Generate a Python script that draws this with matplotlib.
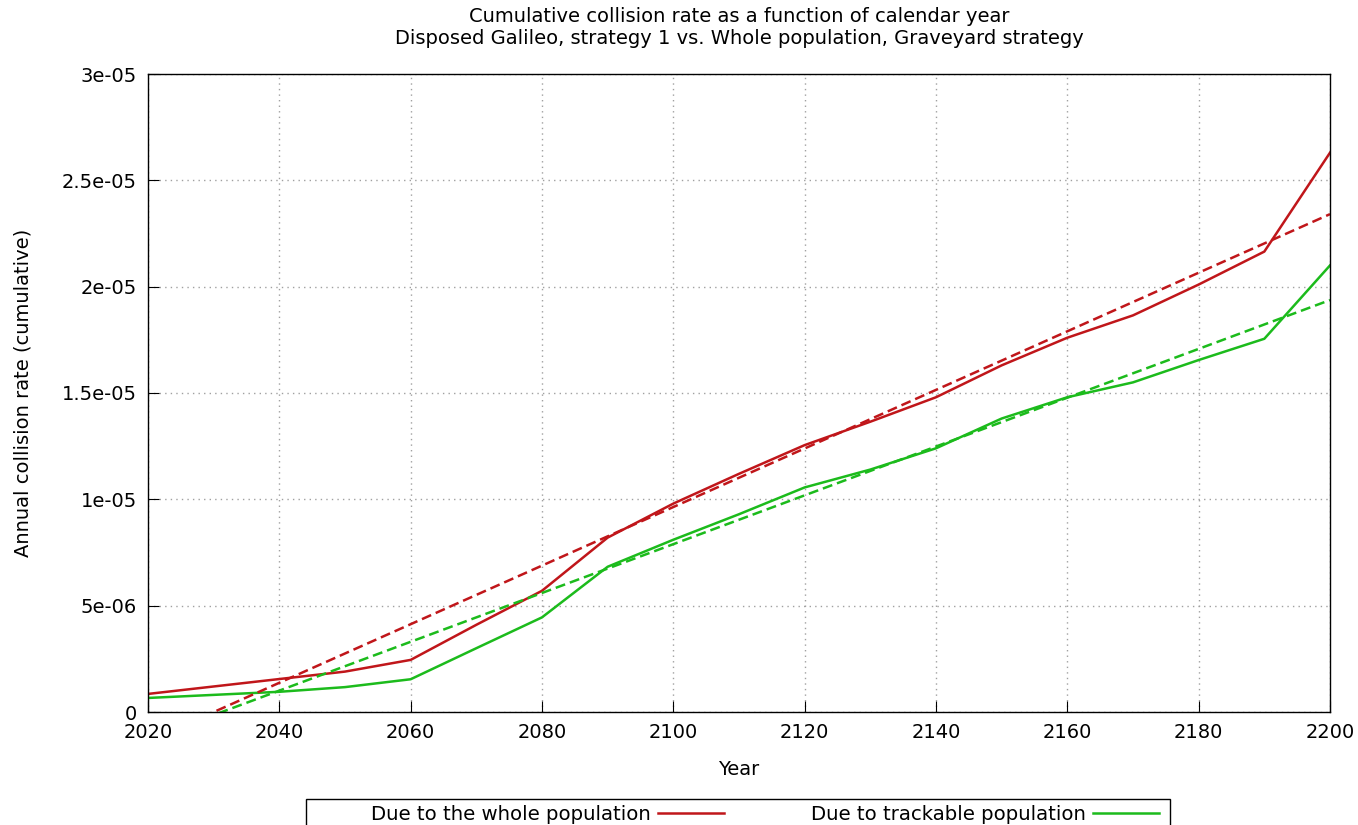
import matplotlib
matplotlib.use('Agg')
import matplotlib.pyplot as plt
from matplotlib.patches import Rectangle

years = [2020, 2040, 2050, 2060, 2070, 2080, 2090, 2100, 2110, 2120,
         2130, 2140, 2150, 2160, 2170, 2180, 2190, 2200]
whole = [8.5e-7, 1.55e-6, 1.9e-6, 2.45e-6, 4.1e-6, 5.7e-6, 8.2e-6, 9.8e-6, 1.12e-5, 1.255e-5,
         1.365e-5, 1.48e-5, 1.63e-5, 1.76e-5, 1.865e-5, 2.01e-5, 2.165e-5, 2.63e-5]
trackable = [6.6e-7, 9.5e-7, 1.17e-6, 1.54e-6, 3.0e-6, 4.45e-6, 6.83e-6, 8.1e-6, 9.3e-6, 1.056e-5,
             1.14e-5, 1.24e-5, 1.38e-5, 1.48e-5, 1.55e-5, 1.655e-5, 1.755e-5, 2.10e-5]

# linear fits (end points)
fit_years = [2020, 2200]
whole_fit = [-1.38e-6, 2.341e-5]
trackable_fit = [-1.29e-6, 1.937e-5]

red = '#c0161a'
green = '#1cbb1c'

fig = plt.figure(figsize=(13.58, 8.25), dpi=100)
ax = fig.add_axes([148/1358, 1-712/825, (1330-148)/1358, (712-74)/825])

ax.plot(years, whole, color=red, linewidth=1.8, label='Due to the whole population')
ax.plot(years, trackable, color=green, linewidth=1.8, label='Due to trackable population')
ax.plot(fit_years, whole_fit, color=red, linewidth=1.8, linestyle=(0, (4, 2)))
ax.plot(fit_years, trackable_fit, color=green, linewidth=1.8, linestyle=(0, (4, 2)))

ax.set_xlim(2020, 2200)
ax.set_ylim(0, 3e-5)
ax.set_xticks(range(2020, 2201, 20))
yt = [0, 5e-6, 1e-5, 1.5e-5, 2e-5, 2.5e-5, 3e-5]
ax.set_yticks(yt)
ax.set_yticklabels(['0', '5e-06', '1e-05', '1.5e-05', '2e-05', '2.5e-05', '3e-05'])
ax.tick_params(direction='in', length=8, labelsize=14, top=False, right=False, pad=8)
ax.grid(True, color='#a0a0a0', linestyle=(0, (1, 3)), linewidth=1.0)
for s in ax.spines.values():
    s.set_linewidth(1.0)

ax.set_xlabel('Year', fontsize=14, labelpad=13)
ax.set_ylabel('Annual collision rate (cumulative)', fontsize=14, labelpad=21)
fig.suptitle('Cumulative collision rate as a function of calendar year\n'
             'Disposed Galileo, strategy 1 vs. Whole population, Graveyard strategy',
             fontsize=14, x=739/1358, y=0.991, linespacing=1.2)

# gnuplot-style key box below the plot
fig.patches.append(Rectangle((306/1358, 1-830/825), (1170-306)/1358, 31/825,
                             transform=fig.transFigure, fill=False,
                             edgecolor='black', linewidth=1.0))
leg = fig.legend(loc='upper left', bbox_to_anchor=(371/1358, 1-805/825), ncol=2,
                 markerfirst=False, frameon=False, fontsize=14.25,
                 handlelength=3.35, handletextpad=0.35, columnspacing=4.4,
                 borderpad=0, borderaxespad=0)

fig.savefig('out.png', dpi=100)
